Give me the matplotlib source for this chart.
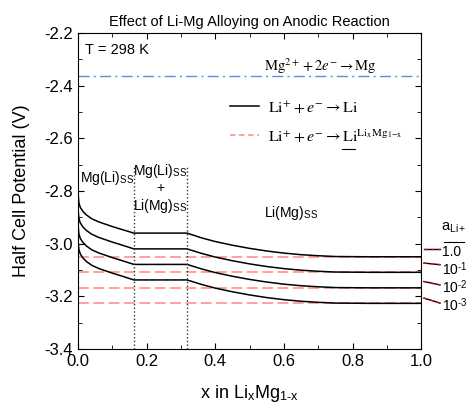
import numpy as np
import matplotlib
matplotlib.use('Agg')
import matplotlib.pyplot as plt
from matplotlib.ticker import MultipleLocator

plt.rcParams['font.family'] = ['Liberation Sans', 'DejaVu Sans']
plt.rcParams['mathtext.fontset'] = 'stix'

# x in LixMg1-x
x = [0.0, 0.003, 0.007, 0.015, 0.025, 0.04, 0.06, 0.08, 0.10, 0.125, 0.163,
     0.318, 0.36, 0.40, 0.45, 0.50, 0.55, 0.60, 0.65, 0.70, 0.75, 0.85, 1.0]

# half-cell potential of Li in the alloy, one curve per Li+ activity
e_a1 = [-2.80, -2.845, -2.862, -2.878, -2.891, -2.905, -2.917, -2.926, -2.935, -2.945, -2.960,
        -2.960, -2.978, -2.992, -3.006, -3.018, -3.028, -3.036, -3.042, -3.046, -3.049, -3.050, -3.050]
e_a01 = [-2.86, -2.904, -2.921, -2.937, -2.950, -2.964, -2.976, -2.985, -2.994, -3.004, -3.020,
         -3.020, -3.037, -3.051, -3.065, -3.077, -3.087, -3.095, -3.101, -3.105, -3.108, -3.109, -3.109]
e_a001 = [-2.92, -2.963, -2.980, -2.996, -3.009, -3.023, -3.035, -3.044, -3.053, -3.063, -3.079,
          -3.079, -3.096, -3.110, -3.124, -3.136, -3.146, -3.154, -3.160, -3.164, -3.167, -3.168, -3.168]
e_a0001 = [-2.98, -3.022, -3.039, -3.055, -3.068, -3.082, -3.094, -3.103, -3.112, -3.122, -3.138,
           -3.138, -3.155, -3.169, -3.183, -3.195, -3.205, -3.213, -3.219, -3.223, -3.226, -3.227, -3.227]

# pure Li potentials for the same activities, and Mg
e_li = [-3.050, -3.109, -3.168, -3.227]
e_mg = -2.363
act_labels = ['1.0', '10$^{\\mathregular{\\text{-}1}}$', '10$^{\\mathregular{\\text{-}2}}$',
              '10$^{\\mathregular{\\text{-}3}}$']

# phase boundaries
x_bounds = [0.163, 0.318]

red = '#ff9999'

fig = plt.figure(figsize=(4.69, 4.09), dpi=100)
ax = fig.add_axes([0.166, 0.147, 0.732, 0.772])

ax.axhline(e_mg, color='#5b8fe0', linestyle='-.', linewidth=1.0, dashes=(8, 3, 1.5, 3))
for v in e_li:
    ax.axhline(v, color=red, linestyle='--', linewidth=1.3, dashes=(6, 2.5))
for curve in [e_a1, e_a01, e_a001, e_a0001]:
    ax.plot(x, curve, color='black', linewidth=1.1)
for xb in x_bounds:
    ax.plot([xb, xb], [-3.4, -2.705], color='#333333', linestyle=':', linewidth=1.0)

# legend
ax.plot([], [], color='black', linewidth=1.1,
        label=r'$\mathrm{Li}^{+}+e^{-}\rightarrow\mathrm{Li}$')
ax.plot([], [], color=red, linestyle='--', linewidth=1.3, dashes=(3, 2),
        label=r'$\mathrm{Li}^{+}+e^{-}\rightarrow\mathrm{Li}^{\mathrm{Li_xMg_{1\!-\!x}}}$')
ax.legend(loc='upper left', bbox_to_anchor=(0.40, 0.835), frameon=False,
          fontsize=11.5, handlelength=1.85, handletextpad=0.55, labelspacing=0.75)
# underline under the alloy Li in the second legend entry
ax.plot([0.77, 0.806], [0.634, 0.634], transform=ax.transAxes, color='black',
        linewidth=0.8, clip_on=False)

ax.text(0.706, 0.895, r'$\mathrm{Mg}^{2+}+2e^{-}\rightarrow\mathrm{Mg}$', transform=ax.transAxes,
        ha='center', va='center', fontsize=10.5)
ax.text(0.02, 0.945, 'T = 298 K', transform=ax.transAxes, ha='left', va='center', fontsize=10.5)
ax.text(0.086, -2.75, r'Mg(Li)$_{\mathregular{SS}}$', ha='center', va='center', fontsize=10)
ax.text(0.24, -2.79, 'Mg(Li)$_{\\mathregular{SS}}$\n+\nLi(Mg)$_{\\mathregular{SS}}$',
        ha='center', va='center', fontsize=10, linespacing=1.1)
ax.text(0.622, -2.884, r'Li(Mg)$_{\mathregular{SS}}$', ha='center', va='center', fontsize=10)

# activity labels outside the right axis
lead_y0 = [-3.020, -3.074, -3.144, -3.207]
lead_y1 = [-3.020, -3.080, -3.157, -3.226]
lab_y = [-3.030, -3.098, -3.166, -3.234]
ax.text(1.095, -2.94, r'a$_{\mathregular{Li+}}$', ha='center', va='center', fontsize=10.5, clip_on=False)
ax.plot([1.066, 1.124], [-2.9925, -2.9925], color='black', linewidth=0.8, clip_on=False)
for y0, y1, ly, lab in zip(lead_y0, lead_y1, lab_y, act_labels):
    ax.plot([1.008, 1.055], [y0, y1], color='black', linewidth=1.0, clip_on=False)
    ax.plot([1.008, 1.055], [y0, y1], color='red', linewidth=1.0, linestyle='--',
            dashes=(2, 3), clip_on=False)
    ax.text(1.06, ly, lab, ha='left', va='center', fontsize=10, clip_on=False)

ax.set_xlim(0, 1.0)
ax.set_ylim(-3.4, -2.2)
ax.xaxis.set_major_locator(MultipleLocator(0.2))
ax.xaxis.set_minor_locator(MultipleLocator(0.1))
ax.yaxis.set_major_locator(MultipleLocator(0.2))
ax.yaxis.set_minor_locator(MultipleLocator(0.1))
ax.tick_params(which='both', direction='in', top=True, right=True, labelsize=12)
ax.tick_params(which='major', length=4)
ax.tick_params(which='minor', length=3)
ax.xaxis.set_major_formatter(plt.FuncFormatter(lambda v, p: f'{v:.1f}'))
ax.yaxis.set_major_formatter(plt.FuncFormatter(lambda v, p: f'{v:.1f}'))

ax.set_xlabel(r'x in Li$_{\mathregular{x}}$Mg$_{\mathregular{1\text{-}x}}$', fontsize=13, labelpad=10)
ax.set_ylabel('Half Cell Potential (V)', fontsize=13, labelpad=10)
ax.set_title('Effect of Li-Mg Alloying on Anodic Reaction', fontsize=10.5, pad=5)

fig.savefig('out.png', dpi=100)
